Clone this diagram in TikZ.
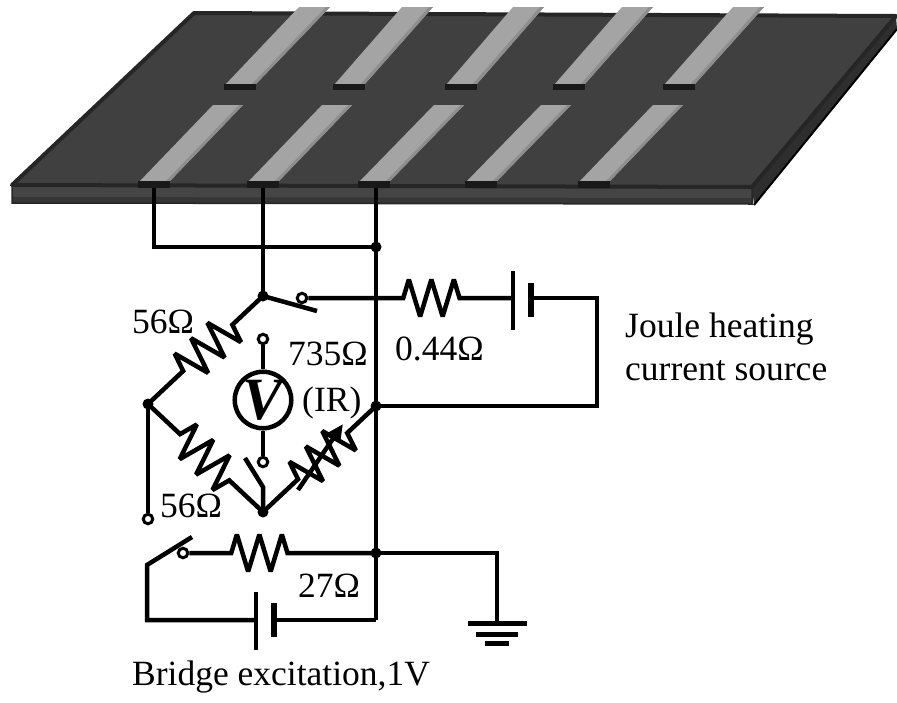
\documentclass[tikz,border=0pt]{standalone}
\usepackage{fontspec}
\setmainfont{Liberation Serif}
\usetikzlibrary{decorations.pathmorphing,arrows.meta}
\definecolor{platetop}{HTML}{404040}
\definecolor{plateedge}{HTML}{262626}
\definecolor{platefront}{HTML}{454545}
\definecolor{platefrontlow}{HTML}{363636}
\definecolor{plateside}{HTML}{2E2E2E}
\definecolor{stripe}{HTML}{A4A4A4}
\definecolor{stripeshade}{HTML}{8E8E8E}
\begin{document}
\begin{tikzpicture}[x=1pt,y=-1pt,
  wire/.style={line width=4.5pt, line join=miter, miter limit=3},
  res/.style 2 args={wire, decorate, decoration={zigzag, segment length=22.5pt,
      amplitude=18.5pt, pre length=#1, post length=#2}},
  dotfill/.style={fill=black},
  terminal/.style={circle, draw=black, fill=white, line width=3pt,
      inner sep=0pt, minimum size=9.5pt},
  lbl/.style={font=\fontsize{35.5}{42}\selectfont, inner sep=0pt, anchor=base west},
  footing/.style={fill=black!90},
  stripebody/.style={fill=stripe},
  stripeedge/.style={fill=stripeshade}]
\useasboundingbox (0,0) rectangle (897,702);

% ---------- substrate plate ----------
% front face
\fill[platefront] (12,185) -- (752,187) -- (752,204) -- (12,203) -- cycle;
\fill[platefrontlow] (12,197) -- (752,198) -- (752,204) -- (12,203) -- cycle;
\draw[plateedge, line width=1.5pt] (12,185) -- (752,187) -- (752,204) -- (12,203) -- cycle;
% right side face
\fill[plateside] (752,187) -- (896,16) -- (897,29) -- (754,205) -- cycle;
\draw[black, line width=2pt] (897,29) -- (754,205);
% top face
\filldraw[fill=platetop, draw=plateedge, line width=4pt, line join=round]
  (194,13) -- (896,16) -- (752,187) -- (12,185) -- cycle;

% electrode stripes, back row
\foreach \xb/\xt in {225/299, 334/402, 446/513, 554/622, 664/733}{
  \fill[stripebody] (\xb,85) -- (\xb+30,85) -- (\xt+31,7) -- (\xt,7) -- cycle;
  \fill[stripeedge] (\xb+26,85) -- (\xb+30,85) -- (\xt+31,7) -- (\xt+27,7) -- cycle;
  \fill[footing] (\xb-1,84) rectangle (\xb+31,90);
}
% electrode stripes, front row
\foreach \xb/\xt in {139/213, 248/322, 359/434, 466/541, 579/653}{
  \fill[stripebody] (\xb,182) -- (\xb+30,182) -- (\xt+30,105) -- (\xt,105) -- cycle;
  \fill[stripeedge] (\xb+26,182) -- (\xb+30,182) -- (\xt+30,105) -- (\xt+26,105) -- cycle;
  \fill[footing] (\xb-1,181) rectangle (\xb+31,188);
}

% ---------- circuit points ----------
\coordinate (p1) at (154,188);
\coordinate (p2) at (263,188);
\coordinate (p3) at (376,188);
\coordinate (jL) at (154,247);
\coordinate (jM) at (263,247);
\coordinate (jR) at (376,247);
\coordinate (top) at (263,296);
\coordinate (blade1) at (317,311);
\coordinate (bj1) at (513,298);
\coordinate (bj2) at (531,298);
\coordinate (c1) at (597,298);
\coordinate (c2) at (597,406);
\coordinate (R) at (376,406);
\coordinate (L) at (148,404);
\coordinate (B) at (263,512);
\coordinate (bk) at (263,487);
\coordinate (bt) at (245,458);
\coordinate (ara) at (298,490);
\coordinate (arb) at (343,424);
\coordinate (E) at (376,553);
\coordinate (g1) at (497,553);
\coordinate (g2) at (497,621);
\coordinate (blade2) at (192,537);
\coordinate (piv2) at (147,565);
\coordinate (cBL) at (147,620);
\coordinate (bj3) at (256,620);
\coordinate (bj4) at (274,620);
\coordinate (cBR) at (376,620);

% terminals and voltmeter
\node[terminal] (sw1) at (302,298) {};
\node[terminal] (sw2) at (183,553) {};
\node[terminal] (vt) at (263,339) {};
\node[terminal] (vb) at (263,462) {};
\node[terminal] (Lt) at (148,519) {};
\node[circle, draw=black, line width=4.5pt, minimum size=55.5pt, inner sep=0pt,
      font=\fontsize{60}{60}\selectfont\bfseries\itshape] (V) at (263,400) {V};

% ---------- wiring ----------
\draw[wire] (p1) -- (jL) -- (jR);
\draw[wire] (p2) -- (jM) -- (top);
\draw[wire] (p3) -- (cBR);
\draw[wire] (top) -- (blade1);
\draw[res={95pt}{43pt}] (sw1) -- (bj1);
\draw[wire] (bj2) -- (c1) -- (c2) -- (R);
% Joule heating battery
\draw[line width=4.5pt] (513,271) -- (513,330);
\draw[line width=6.5pt] (531,283) -- (531,317);

% bridge arms
\draw[res={42pt}{47pt}] (top) -- (L);
\draw[res={44pt}{45pt}] (L) -- (B);
\draw[res={48pt}{38pt}] (B) -- (R);
\draw[wire, -{Triangle[length=17pt,width=15pt]}] (ara) -- (arb);
\draw[wire] (L) -- (Lt);
\draw[wire] (B) -- (bk) -- (bt);
\draw[wire] (V) -- (vt);
\draw[wire] (V) -- (vb);

% excitation loop
\draw[res={42pt}{78pt}] (sw2) -- (E);
\draw[wire] (blade2) -- (piv2) -- (cBL) -- (bj3);
\draw[wire] (bj4) -- (cBR);
\draw[line width=4.5pt] (256,592) -- (256,650);
\draw[line width=6.5pt] (274,603) -- (274,637);

% ground
\draw[wire] (E) -- (g1) -- (g2);
\fill (468,621) rectangle (527,626);
\fill (476,632) rectangle (518,637);
\fill (485,641) rectangle (509,646);

% junction dots
\foreach \j in {jR, top, L, R, B, E}{
  \fill[dotfill] (\j) circle[radius=5.5pt];
}

% ---------- labels ----------
\node[lbl] (l56a) at (132,333) {56Ω};
\node[lbl] (l735) at (288,365) {735Ω};
\node[lbl] (lir) at (302,411) {(IR)};
\node[lbl] (l044) at (395,360) {0.44Ω};
\node[lbl] (l56b) at (160,517) {56Ω};
\node[lbl] (l27) at (298,597) {27Ω};
\node[lbl] (ljoule) at (625,337) {Joule heating};
\node[lbl] (lcur) at (625,380) {current source};
\node[lbl] (lbridge) at (132,685) {Bridge excitation,1V};
\end{tikzpicture}
\end{document}
